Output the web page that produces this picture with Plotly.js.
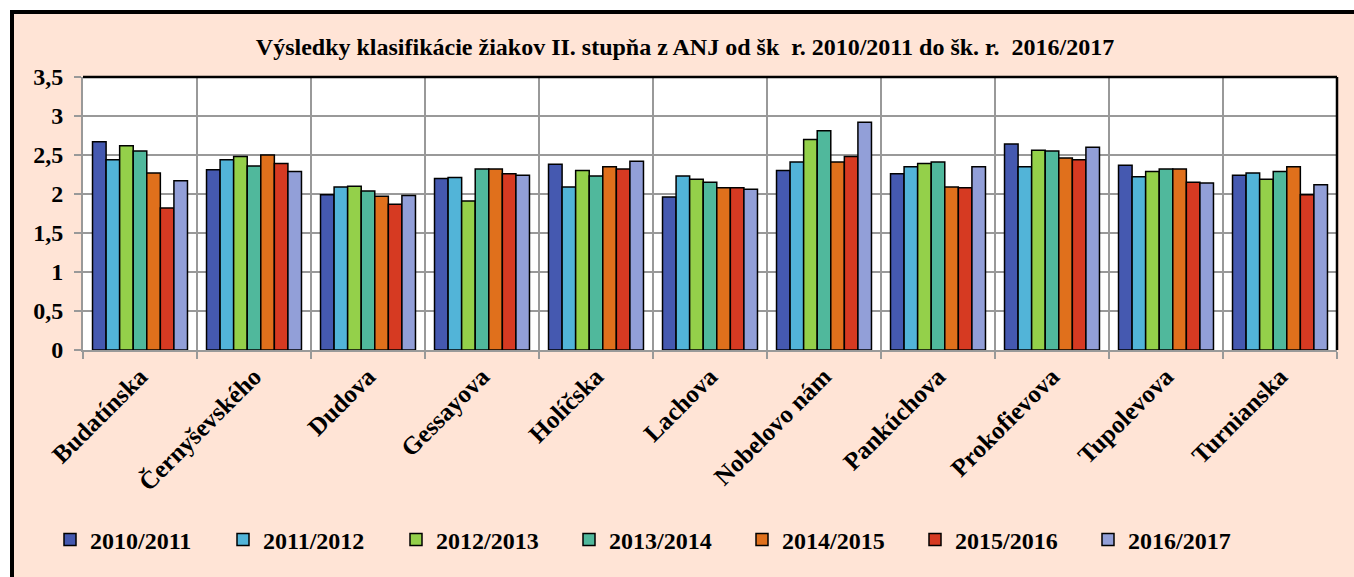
<!DOCTYPE html>
<html>
<head>
<meta charset="utf-8">
<script src="https://cdn.plot.ly/plotly-3.0.1.min.js"></script>
<style>
  html, body { margin:0; padding:0; background:#ffffff; }
  #wrap { position:relative; width:1354px; height:577px; overflow:hidden; }
  #frame { position:absolute; left:10px; top:10px; width:1350px; height:565px;
           background:#FFE4D6; border-left:4px solid #000; border-top:4px solid #000;
           border-bottom:1px solid #d8c2b4; }
  #chart { position:absolute; left:0; top:0; width:1354px; height:577px; }
</style>
</head>
<body>
<div id="wrap"><div id="frame"></div><div id="chart"></div></div>
<script>
const categories = ["Budatínska","Černyševského","Dudova","Gessayova","Holíčska","Lachova","Nobelovo nám","Pankúchova","Prokofievova","Tupolevova","Turnianska"];
const seriesNames = ["2010/2011","2011/2012","2012/2013","2013/2014","2014/2015","2015/2016","2016/2017"];
const s2010 = [2.67, 2.31, 1.99, 2.20, 2.38, 1.96, 2.30, 2.26, 2.64, 2.37, 2.24];
const s2011 = [2.44, 2.44, 2.09, 2.21, 2.09, 2.23, 2.41, 2.35, 2.35, 2.22, 2.27];
const s2012 = [2.62, 2.48, 2.10, 1.91, 2.30, 2.19, 2.70, 2.39, 2.56, 2.29, 2.19];
const s2013 = [2.55, 2.36, 2.04, 2.32, 2.23, 2.15, 2.81, 2.41, 2.55, 2.32, 2.29];
const s2014 = [2.27, 2.50, 1.97, 2.32, 2.35, 2.08, 2.41, 2.09, 2.46, 2.32, 2.35];
const s2015 = [1.82, 2.39, 1.87, 2.26, 2.32, 2.08, 2.48, 2.08, 2.44, 2.15, 1.99];
const s2016 = [2.17, 2.29, 1.98, 2.24, 2.42, 2.06, 2.92, 2.35, 2.60, 2.14, 2.12];
const allSeries = [s2010, s2011, s2012, s2013, s2014, s2015, s2016];
const colors = ["#4559B0","#52B4D8","#94D04A","#50B89C","#E0701C","#D63A22","#929FD8"];

const FONT = "Liberation Serif";

const traces = allSeries.map((vals, i) => ({
  type: 'bar',
  name: seriesNames[i],
  x: categories,
  y: vals,
  marker: { color: colors[i], line: { color: '#000000', width: 1.5 } },
  hoverinfo: 'x+y+name'
}));

const layout = {
  width: 1354, height: 577,
  paper_bgcolor: 'rgba(0,0,0,0)',
  plot_bgcolor: '#ffffff',
  margin: { l: 83, r: 17, t: 77, b: 227, pad: 0 },
  separators: ', ',
  barmode: 'group',
  bargap: 0.167,
  bargroupgap: 0,
  title: {
    text: 'Výsledky klasifikácie žiakov II. stupňa z ANJ od šk\u00A0 r. 2010/2011 do šk. r.\u00A0 2016/2017',
    font: { family: FONT, size: 24, color: '#000', weight: 'bold' },
    x: 685/1354, xref: 'container', xanchor: 'center',
    y: 1 - 47/577, yref: 'container', yanchor: 'middle'
  },
  xaxis: {
    type: 'category',
    tickson: 'boundaries',
    showgrid: true, gridcolor: '#999999', gridwidth: 2,
    showline: true, linecolor: '#999999', linewidth: 2,
    ticks: 'outside', ticklen: 7, tickcolor: '#999999', tickwidth: 2,
    tickangle: -45,
    tickfont: { family: FONT, size: 25, color: '#000', weight: 'bold' },
    automargin: false
  },
  yaxis: {
    range: [0, 3.5], dtick: 0.5, tick0: 0,
    showgrid: true, gridcolor: '#999999', gridwidth: 2,
    showline: true, linecolor: '#999999', linewidth: 2,
    ticks: 'outside', ticklen: 7, tickcolor: '#999999', tickwidth: 2,
    ticklabelstandoff: 6,
    tickfont: { family: FONT, size: 24, color: '#000', weight: 'bold' },
    zeroline: false,
    automargin: false
  },
  shapes: [
    { type: 'line', xref: 'paper', yref: 'paper', x0: 0, x1: 1, y0: 1, y1: 1, line: { color: '#000', width: 2.5 } },
    { type: 'line', xref: 'paper', yref: 'paper', x0: 1, x1: 1, y0: 0, y1: 1, line: { color: '#000', width: 2.5 } }
  ],
  showlegend: true,
  legend: {
    orientation: 'h',
    xref: 'container', yref: 'container',
    x: 50/1354, xanchor: 'left',
    y: 1 - 540/577, yanchor: 'middle',
    entrywidth: 128, entrywidthmode: 'pixels',
    itemwidth: 30,
    bgcolor: 'rgba(0,0,0,0)',
    font: { family: FONT, size: 24, color: '#000', weight: 'bold' }
  }
};

Plotly.newPlot('chart', traces, layout, { displayModeBar: false, staticPlot: false });
</script>
</body>
</html>
